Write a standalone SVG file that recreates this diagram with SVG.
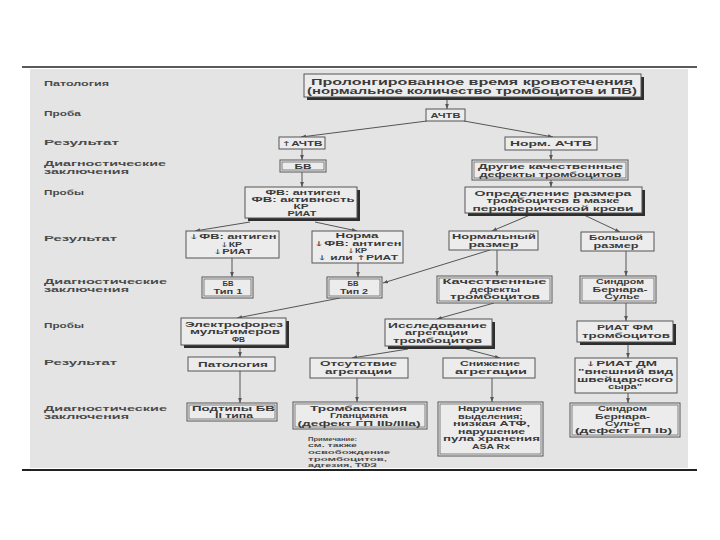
<svg xmlns="http://www.w3.org/2000/svg" width="720" height="540" viewBox="0 0 720 540">
<style>
text{font-family:"Liberation Sans",Arial,sans-serif;fill:#3a3a3a;font-weight:bold}
.t{font-size:6.5px;text-anchor:middle}
.tb{font-size:8.2px;text-anchor:middle}
.l{font-size:6.6px;fill:#4a4a4a}
.n{font-size:5.8px;fill:#4a4a4a}
.a{font-family:"DejaVu Sans",sans-serif;font-weight:normal}
.b{fill:#ececec;stroke:#555;stroke-width:1}
.i{fill:none;stroke:#666;stroke-width:0.8}
.s{fill:#2e2e2e}
.c{stroke:#555;stroke-width:1;fill:none;marker-end:url(#ah)}
</style>
<defs>
<marker id="ah" viewBox="0 0 8 8" refX="8" refY="4" markerWidth="5" markerHeight="5" orient="auto" markerUnits="userSpaceOnUse"><path d="M0,1 L8,4 L0,7 z" fill="#555"/></marker>
</defs>
<rect width="720" height="540" fill="#fff"/>
<rect x="30" y="69" width="658" height="399" fill="#e4e4e4"/>
<line x1="22" y1="67" x2="697" y2="67" stroke="#222" stroke-width="1.6"/>
<line x1="22" y1="470" x2="697" y2="470" stroke="#222" stroke-width="2"/>

<g id="labels">
<text class="l" x="44" y="86" textLength="65" lengthAdjust="spacingAndGlyphs">Патология</text>
<text class="l" x="44" y="115.5" textLength="37" lengthAdjust="spacingAndGlyphs">Проба</text>
<text class="l" x="44" y="144.5" textLength="75" lengthAdjust="spacingAndGlyphs">Результат</text>
<text class="l" x="44" y="166" textLength="122" lengthAdjust="spacingAndGlyphs">Диагностические</text>
<text class="l" x="44" y="174" textLength="85" lengthAdjust="spacingAndGlyphs">заключения</text>
<text class="l" x="44" y="195" textLength="40" lengthAdjust="spacingAndGlyphs">Пробы</text>
<text class="l" x="44" y="241" textLength="73" lengthAdjust="spacingAndGlyphs">Результат</text>
<text class="l" x="44" y="283.5" textLength="123" lengthAdjust="spacingAndGlyphs">Диагностические</text>
<text class="l" x="44" y="291.5" textLength="85" lengthAdjust="spacingAndGlyphs">заключения</text>
<text class="l" x="44" y="328" textLength="40" lengthAdjust="spacingAndGlyphs">Пробы</text>
<text class="l" x="44" y="364.5" textLength="73" lengthAdjust="spacingAndGlyphs">Результат</text>
<text class="l" x="44" y="410.5" textLength="123" lengthAdjust="spacingAndGlyphs">Диагностические</text>
<text class="l" x="44" y="418.5" textLength="85" lengthAdjust="spacingAndGlyphs">заключения</text>
</g>

<g id="connectors">
<line class="c" x1="447" y1="99" x2="447" y2="109"/>
<line class="c" x1="427" y1="121" x2="301" y2="137"/>
<line class="c" x1="464" y1="121" x2="553" y2="137"/>
<line class="c" x1="302" y1="149" x2="302" y2="160"/>
<line class="c" x1="302" y1="172" x2="302" y2="187"/>
<line class="c" x1="551" y1="150" x2="551" y2="160"/>
<line class="c" x1="551" y1="180" x2="551" y2="187"/>
<line class="c" x1="250" y1="222" x2="195" y2="231"/>
<line class="c" x1="315" y1="222" x2="357" y2="231"/>
<line class="c" x1="530" y1="215" x2="492" y2="231"/>
<line class="c" x1="584" y1="215" x2="620" y2="232"/>
<line class="c" x1="232" y1="258" x2="232" y2="277"/>
<line class="c" x1="358" y1="263" x2="358" y2="277"/>
<line class="c" x1="490" y1="250" x2="383" y2="283"/>
<line class="c" x1="497" y1="250" x2="497" y2="276"/>
<line class="c" x1="626" y1="251" x2="626" y2="276"/>
<line class="c" x1="340" y1="298" x2="237" y2="318"/>
<line class="c" x1="494" y1="303" x2="437" y2="319"/>
<line class="c" x1="626" y1="303" x2="626" y2="321"/>
<line class="c" x1="240" y1="348" x2="240" y2="357"/>
<line class="c" x1="408" y1="349" x2="352" y2="358"/>
<line class="c" x1="466" y1="349" x2="500" y2="358"/>
<line class="c" x1="628" y1="345" x2="628" y2="358"/>
<line class="c" x1="240" y1="371" x2="240" y2="403"/>
<line class="c" x1="357" y1="378" x2="357" y2="402"/>
<line class="c" x1="492" y1="378" x2="492" y2="402"/>
<line class="c" x1="628" y1="393" x2="628" y2="403"/>
</g>

<g id="n-top">
<rect class="s" x="307" y="77" width="337" height="23"/>
<rect class="b" x="304" y="74" width="337" height="23"/>
<text class="tb" x="472" y="84.5" textLength="322" lengthAdjust="spacingAndGlyphs">Пролонгированное время кровотечения</text>
<text class="tb" x="472" y="94" textLength="330" lengthAdjust="spacingAndGlyphs">(нормальное количество тромбоцитов и ПВ)</text>
</g>
<g id="n-achtv">
<rect class="b" x="426" y="109" width="39" height="12"/>
<text class="t" x="445.5" y="117.5" textLength="30" lengthAdjust="spacingAndGlyphs">АЧТВ</text>
</g>
<g id="n-up-achtv">
<rect class="b" x="279" y="137" width="46" height="12"/>
<text class="t" x="302" y="145.5" textLength="41" lengthAdjust="spacingAndGlyphs"><tspan class="a">↑</tspan>АЧТВ</text>
</g>
<g id="n-norm-achtv">
<rect class="b" x="505" y="137" width="92" height="13"/>
<text class="t" x="551" y="146" textLength="82" lengthAdjust="spacingAndGlyphs">Норм. АЧТВ</text>
</g>
<g id="n-bv">
<rect class="b" x="280" y="160" width="46" height="12"/>
<rect class="i" x="282" y="162" width="42" height="8"/>
<text class="t" x="303" y="168.5" textLength="17" lengthAdjust="spacingAndGlyphs">БВ</text>
</g>
<g id="n-other">
<rect class="b" x="472" y="160" width="156" height="20"/>
<rect class="i" x="474" y="162" width="152" height="16"/>
<text class="t" x="550.5" y="168.5" textLength="145" lengthAdjust="spacingAndGlyphs">Другие качественные</text>
<text class="t" x="550.5" y="176.5" textLength="142" lengthAdjust="spacingAndGlyphs">дефекты тромбоцитов</text>
</g>
<g id="n-fv">
<rect class="s" x="248" y="190" width="112" height="31"/>
<rect class="b" x="245" y="187" width="112" height="31"/>
<text class="t" x="303" y="194.5" textLength="75" lengthAdjust="spacingAndGlyphs">ФВ: антиген</text>
<text class="t" x="303" y="201.7" textLength="103" lengthAdjust="spacingAndGlyphs">ФВ: активность</text>
<text class="t" x="301" y="208.9" textLength="15" lengthAdjust="spacingAndGlyphs">КР</text>
<text class="t" x="302" y="216.1" textLength="29" lengthAdjust="spacingAndGlyphs">РИАТ</text>
</g>
<g id="n-size">
<rect class="s" x="468" y="190" width="177" height="26"/>
<rect class="b" x="465" y="187" width="177" height="26"/>
<text class="t" x="553" y="195.5" textLength="157" lengthAdjust="spacingAndGlyphs">Определение размера</text>
<text class="t" x="553" y="203" textLength="133" lengthAdjust="spacingAndGlyphs">тромбоцитов в мазке</text>
<text class="t" x="553" y="210.5" textLength="161" lengthAdjust="spacingAndGlyphs">периферической крови</text>
</g>
<g id="n-low-fv">
<rect class="b" x="186" y="231" width="93" height="27"/>
<text class="t" x="232.5" y="239" textLength="88" lengthAdjust="spacingAndGlyphs"><tspan class="a">↓</tspan>ФВ: антиген</text>
<text class="t" x="231" y="246.5" textLength="22" lengthAdjust="spacingAndGlyphs"><tspan class="a">↓</tspan>КР</text>
<text class="t" x="232.5" y="254" textLength="39" lengthAdjust="spacingAndGlyphs"><tspan class="a">↓</tspan>РИАТ</text>
</g>
<g id="n-norma">
<rect class="b" x="312" y="231" width="91" height="32"/>
<text class="t" x="357" y="238.3" textLength="43" lengthAdjust="spacingAndGlyphs">Норма</text>
<text class="t" x="357.5" y="245.5" textLength="88" lengthAdjust="spacingAndGlyphs"><tspan class="a">↓</tspan>ФВ: антиген</text>
<text class="t" x="357" y="252.7" textLength="20" lengthAdjust="spacingAndGlyphs"><tspan class="a">↓</tspan>КР</text>
<text class="t" x="357.5" y="259.9" textLength="81" lengthAdjust="spacingAndGlyphs"><tspan class="a">↓</tspan> или <tspan class="a">↑</tspan>РИАТ</text>
</g>
<g id="n-normal-size">
<rect class="b" x="449" y="231" width="89" height="19"/>
<text class="t" x="494" y="239" textLength="84" lengthAdjust="spacingAndGlyphs">Нормальный</text>
<text class="t" x="493.5" y="247" textLength="50" lengthAdjust="spacingAndGlyphs">размер</text>
</g>
<g id="n-large-size">
<rect class="b" x="581" y="232" width="73" height="19"/>
<text class="t" x="616" y="240" textLength="54" lengthAdjust="spacingAndGlyphs">Большой</text>
<text class="t" x="616" y="248" textLength="45" lengthAdjust="spacingAndGlyphs">размер</text>
</g>
<g id="n-bv1">
<rect class="b" x="202" y="277" width="51" height="21"/>
<rect class="i" x="204" y="279" width="47" height="17"/>
<text class="t" x="228" y="285.5" textLength="11" lengthAdjust="spacingAndGlyphs">БВ</text>
<text class="t" x="228" y="293.5" textLength="29" lengthAdjust="spacingAndGlyphs">Тип 1</text>
</g>
<g id="n-bv2">
<rect class="b" x="327" y="277" width="55" height="21"/>
<rect class="i" x="329" y="279" width="51" height="17"/>
<text class="t" x="353" y="285.5" textLength="11" lengthAdjust="spacingAndGlyphs">БВ</text>
<text class="t" x="354" y="293.5" textLength="28" lengthAdjust="spacingAndGlyphs">Тип 2</text>
</g>
<g id="n-qual">
<rect class="b" x="437" y="276" width="115" height="27"/>
<rect class="i" x="439" y="278" width="111" height="23"/>
<text class="t" x="494.5" y="284.3" textLength="104" lengthAdjust="spacingAndGlyphs">Качественные</text>
<text class="t" x="495" y="291.8" textLength="50" lengthAdjust="spacingAndGlyphs">дефекты</text>
<text class="t" x="495" y="299.3" textLength="90" lengthAdjust="spacingAndGlyphs">тромбоцитов</text>
</g>
<g id="n-bss1">
<rect class="b" x="580" y="276" width="76" height="27"/>
<rect class="i" x="582" y="278" width="72" height="23"/>
<text class="t" x="620" y="284.3" textLength="48" lengthAdjust="spacingAndGlyphs">Синдром</text>
<text class="t" x="620" y="291.8" textLength="55" lengthAdjust="spacingAndGlyphs">Бернара-</text>
<text class="t" x="622" y="299.3" textLength="35" lengthAdjust="spacingAndGlyphs">Сулье</text>
</g>
<g id="n-electro">
<rect class="s" x="184" y="321" width="105" height="27"/>
<rect class="b" x="181" y="318" width="105" height="27"/>
<text class="t" x="234" y="326.8" textLength="98" lengthAdjust="spacingAndGlyphs">Электрофорез</text>
<text class="t" x="235" y="334.3" textLength="90" lengthAdjust="spacingAndGlyphs">мультимеров</text>
<text class="t" x="238.5" y="341.8" textLength="13" lengthAdjust="spacingAndGlyphs">ФВ</text>
</g>
<g id="n-aggr">
<rect class="s" x="388" y="322" width="107" height="27"/>
<rect class="b" x="385" y="319" width="107" height="27"/>
<text class="t" x="437.5" y="327.8" textLength="99" lengthAdjust="spacingAndGlyphs">Исследование</text>
<text class="t" x="436.5" y="335.3" textLength="63" lengthAdjust="spacingAndGlyphs">агрегации</text>
<text class="t" x="437.5" y="342.8" textLength="89" lengthAdjust="spacingAndGlyphs">тромбоцитов</text>
</g>
<g id="n-riat-fm">
<rect class="s" x="580" y="324" width="96" height="21"/>
<rect class="b" x="577" y="321" width="96" height="21"/>
<text class="t" x="625" y="329.5" textLength="56" lengthAdjust="spacingAndGlyphs">РИАТ ФМ</text>
<text class="t" x="626" y="337.5" textLength="88" lengthAdjust="spacingAndGlyphs">тромбоцитов</text>
</g>
<g id="n-pathology">
<rect class="b" x="188" y="357" width="87" height="14"/>
<text class="t" x="233" y="366.5" textLength="70" lengthAdjust="spacingAndGlyphs">Патология</text>
</g>
<g id="n-absent">
<rect class="b" x="310" y="358" width="98" height="20"/>
<text class="t" x="358.5" y="366" textLength="77" lengthAdjust="spacingAndGlyphs">Отсутствие</text>
<text class="t" x="358.5" y="374" textLength="67" lengthAdjust="spacingAndGlyphs">агрегации</text>
</g>
<g id="n-reduced">
<rect class="b" x="443" y="358" width="92" height="20"/>
<text class="t" x="490" y="366" textLength="60" lengthAdjust="spacingAndGlyphs">Снижение</text>
<text class="t" x="491" y="374" textLength="72" lengthAdjust="spacingAndGlyphs">агрегации</text>
</g>
<g id="n-riat-dm">
<rect class="b" x="575" y="358" width="102" height="35"/>
<text class="t" x="621" y="366.3" textLength="72" lengthAdjust="spacingAndGlyphs"><tspan class="a">↓</tspan>РИАТ ДМ</text>
<text class="t" x="625.5" y="373.9" textLength="95" lengthAdjust="spacingAndGlyphs">"внешний вид</text>
<text class="t" x="625" y="381.5" textLength="96" lengthAdjust="spacingAndGlyphs">швейцарского</text>
<text class="t" x="625" y="389.1" textLength="34" lengthAdjust="spacingAndGlyphs">сыра"</text>
</g>
<g id="n-subtypes">
<rect class="b" x="187" y="403" width="90" height="18"/>
<rect class="i" x="189" y="405" width="86" height="14"/>
<text class="t" x="233.5" y="410.5" textLength="83" lengthAdjust="spacingAndGlyphs">Подтипы БВ</text>
<text class="t" x="234" y="418.3" textLength="38" lengthAdjust="spacingAndGlyphs">II типа</text>
</g>
<g id="n-glanzmann">
<rect class="b" x="293" y="402" width="134" height="27"/>
<rect class="i" x="295" y="404" width="130" height="23"/>
<text class="t" x="358.5" y="410.5" textLength="97" lengthAdjust="spacingAndGlyphs">Тромбастения</text>
<text class="t" x="359" y="418" textLength="58" lengthAdjust="spacingAndGlyphs">Гланцмана</text>
<text class="t" x="359" y="425.5" textLength="123" lengthAdjust="spacingAndGlyphs">(дефект ГП IIb/IIIa)</text>
</g>
<g id="n-secretion">
<rect class="b" x="438" y="402" width="105" height="54"/>
<rect class="i" x="440" y="404" width="101" height="50"/>
<text class="t" x="490" y="411" textLength="64" lengthAdjust="spacingAndGlyphs">Нарушение</text>
<text class="t" x="490.5" y="418.5" textLength="65" lengthAdjust="spacingAndGlyphs">выделения;</text>
<text class="t" x="491.5" y="426" textLength="77" lengthAdjust="spacingAndGlyphs">низкая АТФ,</text>
<text class="t" x="491.5" y="433.5" textLength="67" lengthAdjust="spacingAndGlyphs">нарушение</text>
<text class="t" x="491.5" y="441" textLength="97" lengthAdjust="spacingAndGlyphs">пула хранения</text>
<text class="t" x="491" y="448.5" textLength="38" lengthAdjust="spacingAndGlyphs">ASA Rx</text>
</g>
<g id="n-bss2">
<rect class="b" x="570" y="403" width="110" height="34"/>
<rect class="i" x="572" y="405" width="106" height="30"/>
<text class="t" x="622.5" y="411.3" textLength="49" lengthAdjust="spacingAndGlyphs">Синдром</text>
<text class="t" x="622.5" y="418.5" textLength="55" lengthAdjust="spacingAndGlyphs">Бернара-</text>
<text class="t" x="622.5" y="425.7" textLength="35" lengthAdjust="spacingAndGlyphs">Сулье</text>
<text class="t" x="623.5" y="432.9" textLength="97" lengthAdjust="spacingAndGlyphs">(дефект ГП Ib)</text>
</g>
<g id="note">
<text class="n" x="308" y="440.5" textLength="49" lengthAdjust="spacingAndGlyphs">Примечание:</text>
<text class="n" x="308" y="447.2" textLength="49" lengthAdjust="spacingAndGlyphs">см. также</text>
<text class="n" x="308" y="453.9" textLength="82" lengthAdjust="spacingAndGlyphs">освобождение</text>
<text class="n" x="308" y="460.6" textLength="79" lengthAdjust="spacingAndGlyphs">тромбоцитов,</text>
<text class="n" x="308" y="467.3" textLength="69" lengthAdjust="spacingAndGlyphs">адгезия, ТФЗ</text>
</g>
</svg>
